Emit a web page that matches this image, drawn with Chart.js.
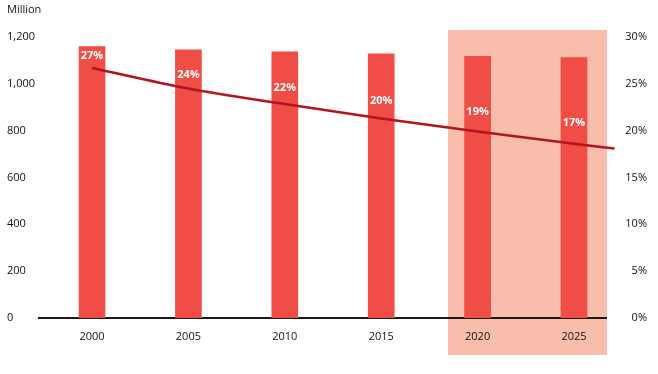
<!DOCTYPE html>
<html>
<head>
<meta charset="utf-8">
<script src="https://cdn.jsdelivr.net/npm/chart.js@4.4.1/dist/chart.umd.min.js"></script>
<style>
  html, body { margin: 0; padding: 0; background: #fff; }
  #wrap { width: 658px; height: 374px; }
</style>
</head>
<body>
<div id="wrap"><canvas id="chart"></canvas></div>
<script>
// --- Data ---
const years = [2000, 2005, 2010, 2015, 2020, 2025];
const population = [1159, 1145, 1137, 1128, 1117, 1112];   // million
const shareLabels = ['27%', '24%', '22%', '20%', '19%', '17%'];
const trendYears = [2000, 2005, 2010, 2015, 2020, 2025, 2027.1];
const trendPct = [26.7, 24.5, 22.85, 21.3, 19.9, 18.6, 18.1];
const forecastFrom = 2018.46;

const leftTicks = [0, 200, 400, 600, 800, 1000, 1200];
const rightTicks = [0, 5, 10, 15, 20, 25, 30];

const FONT = '"Open Sans", "DejaVu Sans", sans-serif';
Chart.defaults.font.family = FONT;
Chart.defaults.font.size = 11;
Chart.defaults.color = '#111';

// shaded forecast block, drawn before axes so labels sit on top
const shadePlugin = {
    id: 'forecastShade',
    beforeDraw(chart) {
        const { ctx, chartArea, scales: { x } } = chart;
        const left = x.getPixelForValue(forecastFrom);
        ctx.save();
        ctx.fillStyle = '#f9bdac';
        ctx.fillRect(left, chartArea.top - 7, chartArea.right + 1 - left, chartArea.bottom - chartArea.top + 44);
        ctx.restore();
    }
};

// white percentage labels inside the bars, just above the trend line
const barLabelPlugin = {
    id: 'barLabels',
    afterDatasetsDraw(chart) {
        const { ctx, scales: { x, y1 } } = chart;
        ctx.save();
        ctx.font = 'bold 11px ' + FONT;
        ctx.fillStyle = '#fff';
        ctx.textAlign = 'center';
        ctx.textBaseline = 'middle';
        shareLabels.forEach((txt, i) => {
            const lift = Math.min(12 + 2 * i, 21);
            ctx.fillText(txt, x.getPixelForValue(years[i]), y1.getPixelForValue(trendPct[i]) - lift);
        });
        ctx.restore();
    }
};

const ctx = document.getElementById('chart').getContext('2d');
new Chart(ctx, {
    type: 'bar',
    data: {
        datasets: [
            {
                type: 'line',
                data: trendYears.map((yr, i) => ({ x: yr, y: trendPct[i] })),
                yAxisID: 'y1',
                borderColor: '#b3141d',
                borderWidth: 2.5,
                pointRadius: 0,
                cubicInterpolationMode: 'monotone',
                clip: false,
                order: 0
            },
            {
                type: 'bar',
                data: years.map((yr, i) => ({ x: yr, y: population[i] })),
                yAxisID: 'y',
                backgroundColor: '#ef4d45',
                barThickness: 26,
                order: 1
            }
        ]
    },
    options: {
        responsive: true,
        maintainAspectRatio: false,
        animation: false,
        layout: { padding: { left: 7, right: 11, top: 0, bottom: 0 } },
        plugins: {
            legend: { display: false },
            tooltip: { enabled: false },
            title: {
                display: true,
                text: 'Million',
                align: 'start',
                color: '#111',
                font: { size: 11, weight: 'normal' },
                padding: { top: 3, bottom: 20.8 }
            }
        },
        scales: {
            x: {
                type: 'linear',
                offset: false,
                min: 1997.25,
                max: 2026.66,
                grid: { display: false, drawTicks: false, offset: false },
                border: { color: '#1a1a1a', width: 2 },
                afterBuildTicks: (s) => { s.ticks = years.map(v => ({ value: v })); },
                afterFit: (s) => { s.height = 56; },
                ticks: { padding: 12, callback: (v) => String(v), color: '#111' }
            },
            y: {
                position: 'left',
                min: 0,
                max: 1200,
                grid: { display: false, drawTicks: false },
                border: { display: false },
                afterBuildTicks: (s) => { s.ticks = leftTicks.map(v => ({ value: v })); },
                afterFit: (s) => { s.width = 32; },
                ticks: {
                    crossAlign: 'far',
                    padding: 0,
                    color: '#111',
                    callback: (v) => v.toLocaleString('en-US')
                }
            },
            y1: {
                position: 'right',
                min: 0,
                max: 30,
                grid: { display: false, drawTicks: false },
                border: { display: false },
                afterBuildTicks: (s) => { s.ticks = rightTicks.map(v => ({ value: v })); },
                afterFit: (s) => { s.width = 41; },
                ticks: {
                    crossAlign: 'far',
                    padding: 0,
                    color: '#111',
                    callback: (v) => v + '%'
                }
            }
        }
    },
    plugins: [shadePlugin, barLabelPlugin]
});
</script>
</body>
</html>
